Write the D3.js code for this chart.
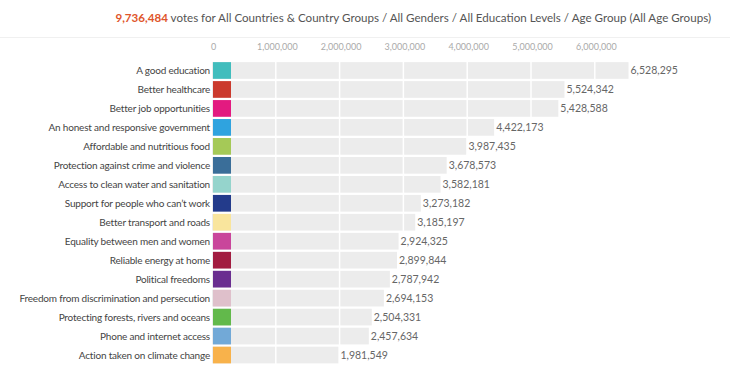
<!DOCTYPE html>
<html>
<head>
    <script type="text/javascript" src="https://d3js.org/d3.v7.min.js"></script>
    <style>
        body { margin: 0; background: #fff; font-family: Lato, "Open Sans", sans-serif; }
    </style>
</head>
<body>
    <div id="chart"></div>
    <script type="text/javascript">
        // data
        const categories = [
            "A good education",
            "Better healthcare",
            "Better job opportunities",
            "An honest and responsive government",
            "Affordable and nutritious food",
            "Protection against crime and violence",
            "Access to clean water and sanitation",
            "Support for people who can\u2019t work",
            "Better transport and roads",
            "Equality between men and women",
            "Reliable energy at home",
            "Political freedoms",
            "Freedom from discrimination and persecution",
            "Protecting forests, rivers and oceans",
            "Phone and internet access",
            "Action taken on climate change"
        ];
        const votes = [6528295, 5524342, 5428588, 4422173, 3987435, 3678573, 3582181, 3273182,
            3185197, 2924325, 2899844, 2787942, 2694153, 2504331, 2457634, 1981549];
        const swatchColors = ["#41bdbd", "#cb3a2d", "#e31a80", "#2fa3df", "#a5c957", "#3a6e99",
            "#95d4cc", "#233b8b", "#f9e59d", "#c9469b", "#a21c40", "#6a2e90", "#dfc0cb",
            "#62b94b", "#72a9d7", "#f8b24b"];
        const tickValues = [0, 1000000, 2000000, 3000000, 4000000, 5000000, 6000000];
        const totalVotes = 9736484;
        const titleRest = " votes for All Countries & Country Groups / All Genders / All Education Levels / Age Group (All Age Groups)";

        // layout constants
        const width = 730, height = 388;
        const x0 = 212, pxPerMillion = 63.8;
        const topY = 61, step = 18.97;

        const fmt = d3.format(",");

        const svg = d3.select("#chart").append("svg")
            .attr("width", width)
            .attr("height", height);

        // title
        const title = svg.append("text")
            .attr("x", 711)
            .attr("y", 22)
            .attr("text-anchor", "end")
            .style("font-size", "11.6px")
            .style("fill", "#555");
        title.append("tspan").text(fmt(totalVotes))
            .style("fill", "#e0552b").style("font-weight", "bold");
        title.append("tspan").text(titleRest);

        svg.append("line")
            .attr("x1", 0).attr("x2", width)
            .attr("y1", 37.5).attr("y2", 37.5)
            .style("stroke", "#f0f0f0");

        const x = d3.scaleLinear()
            .domain([0, 1000000])
            .range([x0, x0 + pxPerMillion]);

        const y = d3.scaleBand()
            .domain(categories)
            .range([topY, topY + step * categories.length])
            .paddingInner(0.12)
            .paddingOuter(0.06);

        // gray bars
        svg.selectAll("rect.bar")
            .data(categories)
            .enter()
            .append("rect")
            .attr("class", "bar")
            .attr("x", x(0))
            .attr("y", d => y(d))
            .attr("width", (d, i) => x(votes[i]) - x(0))
            .attr("height", y.bandwidth())
            .style("fill", "#ececec");

        // white gridlines through the bars
        svg.selectAll("line.grid")
            .data(tickValues.slice(1))
            .enter()
            .append("line")
            .attr("class", "grid")
            .attr("x1", d => x(d)).attr("x2", d => x(d))
            .attr("y1", topY).attr("y2", topY + step * categories.length)
            .style("stroke", "#fff")
            .style("stroke-width", 1.5);

        // colour swatches
        svg.selectAll("rect.swatch")
            .data(categories)
            .enter()
            .append("rect")
            .attr("class", "swatch")
            .attr("x", x(0) + 1)
            .attr("y", d => y(d))
            .attr("width", 18)
            .attr("height", y.bandwidth())
            .style("fill", (d, i) => swatchColors[i]);

        // axis on top
        const axis = d3.axisTop(x)
            .tickValues(tickValues)
            .tickFormat(fmt)
            .tickSize(0)
            .tickPadding(0);
        const ax = svg.append("g")
            .attr("transform", "translate(1,50)")
            .call(axis);
        ax.select(".domain").remove();
        ax.selectAll("text")
            .style("font-family", "Lato, sans-serif")
            .style("font-size", "9px")
            .style("fill", "#aaa");

        // category labels
        svg.selectAll("text.cat")
            .data(categories)
            .enter()
            .append("text")
            .attr("class", "cat")
            .attr("x", x0 - 2)
            .attr("y", d => y(d) + y.bandwidth() / 2)
            .attr("dy", "0.35em")
            .attr("text-anchor", "end")
            .style("font-size", "10px")
            .style("letter-spacing", "-0.2px")
            .style("fill", "#444")
            .text(d => d);

        // value labels
        svg.selectAll("text.val")
            .data(categories)
            .enter()
            .append("text")
            .attr("class", "val")
            .attr("x", (d, i) => x(votes[i]) + 2)
            .attr("y", d => y(d) + y.bandwidth() / 2)
            .attr("dy", "0.35em")
            .style("font-size", "10.5px")
            .style("fill", "#666")
            .text((d, i) => fmt(votes[i]));
    </script>
</body>
</html>
